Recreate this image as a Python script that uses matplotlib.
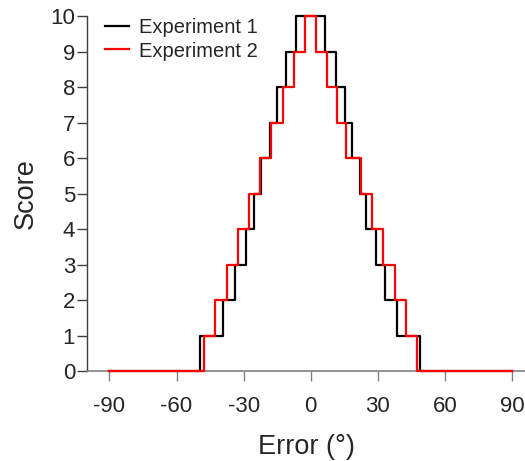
import matplotlib
matplotlib.use("Agg")
import matplotlib.pyplot as plt

# ==========================================================
# Data (step edges in degrees, score held from each edge on)
# ==========================================================

exp1_edges = [-90, -49.3, -39.3, -33.7, -29.1, -25.4, -22.2, -18.4, -15.0, -11.3, -6.5,
              6.5, 11.4, 15.1, 18.4, 22.1, 24.8, 29.0, 33.0, 38.7, 48.7, 90]
exp1_scores = [0, 1, 2, 3, 4, 5, 6, 7, 8, 9, 10,
               9, 8, 7, 6, 5, 4, 3, 2, 1, 0, 0]

exp2_edges = [-90, -47.8, -42.6, -37.5, -32.6, -27.8, -22.7, -18.0, -12.5, -7.6, -2.5,
              2.1, 7.4, 11.9, 15.9, 22.3, 27.3, 32.3, 37.5, 42.4, 47.5, 90]
exp2_scores = [0, 1, 2, 3, 4, 5, 6, 7, 8, 9, 10,
               9, 8, 7, 6, 5, 4, 3, 2, 1, 0, 0]

x_ticks = [-90, -60, -30, 0, 30, 60, 90]
y_ticks = list(range(0, 11))

TEXT_COLOR = "#262626"

plt.rcParams["font.family"] = ["Liberation Sans", "DejaVu Sans"]

fig = plt.figure(figsize=(5.25, 4.61), dpi=100)
ax = fig.add_axes([0.1657, 0.1952, 0.8343, 0.770])

ax.step(exp1_edges, exp1_scores, where="post", color="black",
        linewidth=1.6, label="Experiment 1", zorder=3, clip_on=False)
ax.step(exp2_edges, exp2_scores, where="post", color="#ff0000",
        linewidth=1.6, label="Experiment 2", zorder=4, clip_on=False)

ax.set_xlim(-100, 95.7)
ax.set_ylim(0, 10)
ax.set_xticks(x_ticks)
ax.set_xticklabels([str(v) for v in x_ticks])
ax.set_yticks(y_ticks)

for side in ["top", "right"]:
    ax.spines[side].set_visible(False)
ax.spines["left"].set_color("#404040")
ax.spines["bottom"].set_color("#808080")
ax.spines["left"].set_linewidth(1.0)
ax.spines["bottom"].set_linewidth(1.2)

ax.tick_params(axis="x", direction="out", length=7, width=1.0,
               color="#808080", labelsize=16, labelcolor=TEXT_COLOR, pad=11)
ax.tick_params(axis="y", direction="out", length=7, width=1.0,
               color="#404040", labelsize=16, labelcolor=TEXT_COLOR, pad=1.5)

ax.set_xlabel("Error (°)", fontsize=19.5, color=TEXT_COLOR, labelpad=12.5)
ax.set_ylabel("Score", fontsize=19.5, color=TEXT_COLOR, labelpad=8)

ax.legend(loc="upper left", bbox_to_anchor=(0.177, 0.987),
          bbox_transform=fig.transFigure, frameon=False, fontsize=14.5,
          handlelength=1.2, handletextpad=0.5, labelspacing=0.22,
          borderaxespad=0.2, labelcolor=TEXT_COLOR)

fig.savefig("out.png", dpi=100)
